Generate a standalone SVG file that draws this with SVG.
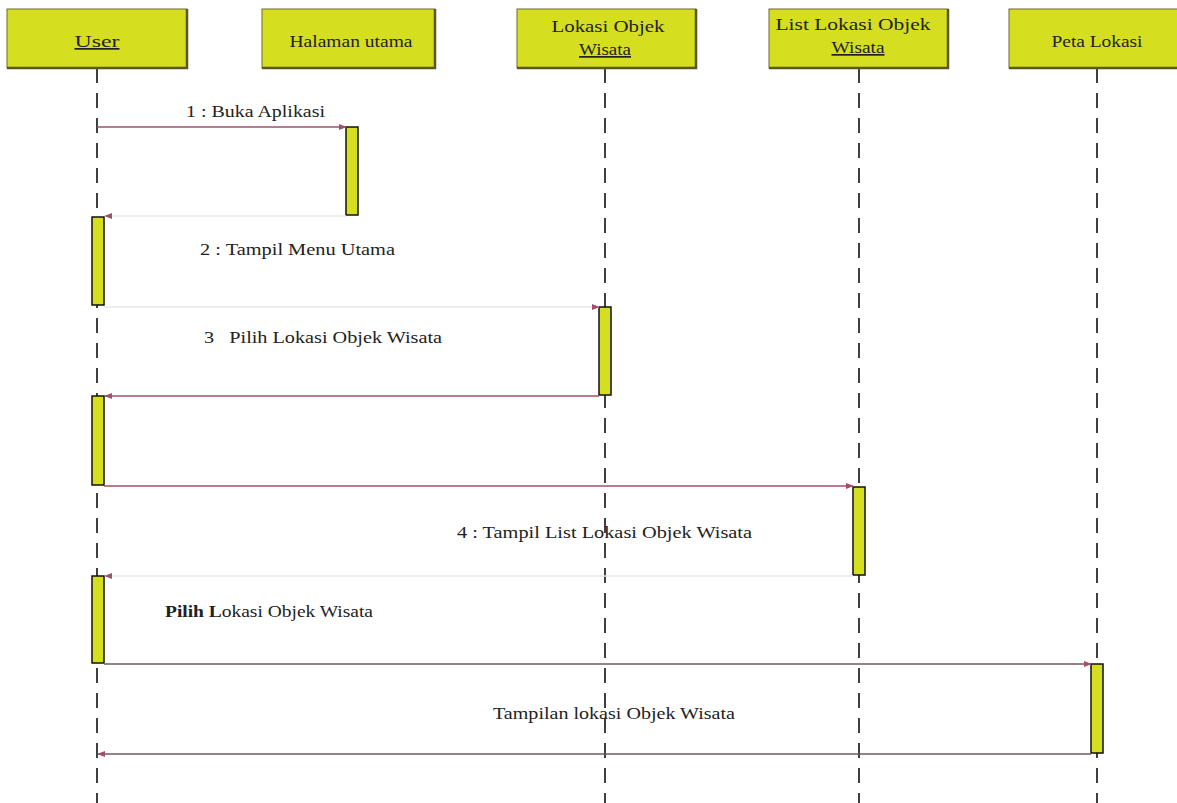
<svg xmlns="http://www.w3.org/2000/svg" width="1177" height="803" viewBox="0 0 1177 803">
  <style>
    .head { fill: #d5df1f; stroke: #6e6a2e; stroke-width: 1; }
    .headshadow { stroke: #5a5628; stroke-width: 2.5; fill: none; }
    .life { stroke: #111; stroke-width: 1.6; stroke-dasharray: 15 10; fill: none; }
    .act { fill: #d5df1f; stroke: #111; stroke-width: 1.5; }
    .msg { stroke: #a0506a; stroke-width: 1.3; fill: none; marker-end: url(#ah); }
    .msg-faint { stroke: #ece6e6; stroke-width: 1.3; fill: none; marker-end: url(#ah); }
    .msg-dark { stroke: #6e5a5e; stroke-width: 1.6; fill: none; marker-end: url(#ah); }
    text { font-family: "Liberation Serif", "Times New Roman", serif; font-size: 17px; fill: #222; white-space: pre; }
    .c { text-anchor: middle; }
    .u { text-decoration: underline; }
  </style>
  <defs>
    <marker id="ah" viewBox="0 0 10 10" refX="9" refY="5" markerWidth="8" markerHeight="8" markerUnits="userSpaceOnUse" orient="auto">
      <path d="M0,1 L10,5 L0,9 Z" fill="#a0506a"/>
    </marker>
  </defs>
  <rect width="1177" height="803" fill="#ffffff"/>

  <!-- lifelines -->
  <g id="lifelines">
    <line class="life" x1="97" y1="68" x2="97" y2="803"/>
    <line class="life" x1="605" y1="68" x2="605" y2="803"/>
    <line class="life" x1="859" y1="68" x2="859" y2="803"/>
    <line class="life" x1="1097" y1="68" x2="1097" y2="803"/>
  </g>

  <!-- participants -->
  <g id="user">
    <rect class="head" x="7" y="9" width="180" height="59"/>
    <polyline class="headshadow" points="7,68 187,68 187,9"/>
    <text class="c u" x="97" y="47" textLength="45" lengthAdjust="spacingAndGlyphs">User</text>
  </g>
  <g id="halaman-utama">
    <rect class="head" x="262" y="9" width="173" height="59"/>
    <polyline class="headshadow" points="262,68 435,68 435,9"/>
    <text class="c" x="351" y="47" textLength="123" lengthAdjust="spacingAndGlyphs">Halaman utama</text>
    <rect class="act" x="346" y="127" width="12" height="88"/>
  </g>
  <g id="lokasi-objek-wisata">
    <rect class="head" x="517" y="9" width="179" height="59"/>
    <polyline class="headshadow" points="517,68 696,68 696,9"/>
    <text class="c" x="608" y="32" textLength="113" lengthAdjust="spacingAndGlyphs">Lokasi Objek</text>
    <text class="c u" x="605" y="55" textLength="52" lengthAdjust="spacingAndGlyphs">Wisata</text>
  </g>
  <g id="list-lokasi-objek-wisata">
    <rect class="head" x="769" y="9" width="179" height="59"/>
    <polyline class="headshadow" points="769,68 948,68 948,9"/>
    <text class="c" x="853" y="30" textLength="155" lengthAdjust="spacingAndGlyphs">List Lokasi Objek</text>
    <text class="c u" x="858" y="53" textLength="53" lengthAdjust="spacingAndGlyphs">Wisata</text>
  </g>
  <g id="peta-lokasi">
    <rect class="head" x="1009" y="9" width="170" height="59"/>
    <line class="headshadow" x1="1009" y1="68" x2="1177" y2="68"/>
    <text class="c" x="1097" y="47" textLength="91" lengthAdjust="spacingAndGlyphs">Peta Lokasi</text>
  </g>

  <!-- activations -->
  <g id="activations">
    <rect class="act" x="92" y="217" width="12" height="88"/>
    <rect class="act" x="599" y="307" width="12" height="88"/>
    <rect class="act" x="92" y="396" width="12" height="89"/>
    <rect class="act" x="853" y="487" width="12" height="88"/>
    <rect class="act" x="92" y="576" width="12" height="87"/>
    <rect class="act" x="1091" y="664" width="12" height="89"/>
  </g>

  <!-- messages -->
  <g id="connectors">
    <line class="msg" x1="97" y1="127" x2="346" y2="127"/>
    <line class="msg-faint" x1="346" y1="216" x2="105" y2="216"/>
    <line class="msg-faint" x1="104" y1="307" x2="599" y2="307"/>
    <line class="msg" x1="599" y1="396" x2="105" y2="396"/>
    <line class="msg" x1="104" y1="486" x2="853" y2="486"/>
    <line class="msg-faint" x1="853" y1="576" x2="105" y2="576"/>
    <line class="msg-dark" x1="104" y1="664" x2="1091" y2="664"/>
    <line class="msg-dark" x1="1091" y1="754" x2="98" y2="754"/>
  </g>

  <!-- message labels -->
  <g id="labels">
    <text x="186" y="117" textLength="139" lengthAdjust="spacingAndGlyphs">1 : Buka Aplikasi</text>
    <text x="200" y="255" textLength="195" lengthAdjust="spacingAndGlyphs">2 : Tampil Menu Utama</text>
    <text x="204" y="343" textLength="238" lengthAdjust="spacingAndGlyphs">3   Pilih Lokasi Objek Wisata</text>
    <text x="457" y="538" textLength="295" lengthAdjust="spacingAndGlyphs">4 : Tampil List Lokasi Objek Wisata</text>
    <text x="165" y="617" textLength="208" lengthAdjust="spacingAndGlyphs"><tspan font-weight="bold">Pilih L</tspan>okasi Objek Wisata</text>
    <text x="493" y="719" textLength="242" lengthAdjust="spacingAndGlyphs">Tampilan lokasi Objek Wisata</text>
  </g>
</svg>
